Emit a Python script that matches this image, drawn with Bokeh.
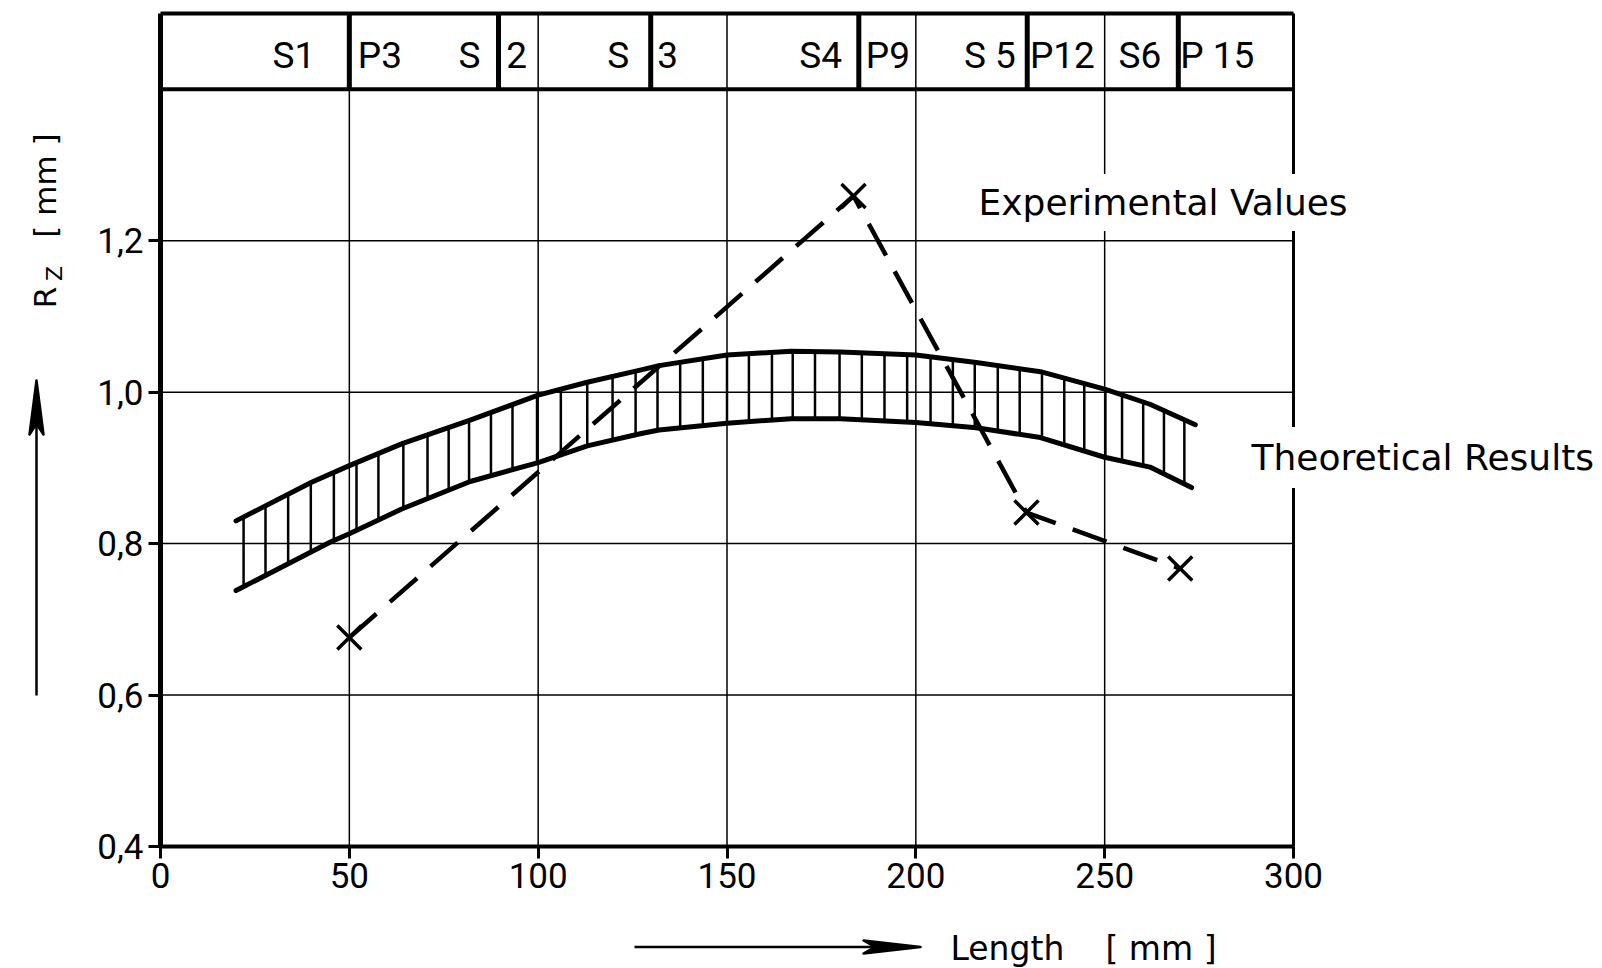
import numpy as np
from bokeh.plotting import figure
from bokeh.models import Range1d, LinearAxis, FixedTicker, Label
from bokeh.embed import file_html
from bokeh.resources import INLINE
from bokeh.core.properties import value

# ---------------- data ----------------
x_ticks = [0, 50, 100, 150, 200, 250, 300]
y_ticks = [0.4, 0.6, 0.8, 1.0, 1.2]
y_tick_labels = ["0,4", "0,6", "0,8", "1,0", "1,2"]
x_grid = [50, 100, 150, 200, 250]
y_grid = [0.6, 0.8, 1.0, 1.2]

# Experimental values (crosses, dashed)
exp_x = [50, 183.5, 229.3, 270]
exp_y = [0.676, 1.259, 0.841, 0.767]

# Theoretical results: band limits
theo_upper_x = [20, 40, 50, 64, 82, 100, 113, 127, 132, 150, 167, 180, 200, 216, 233, 250, 262, 274]
theo_upper_y = [0.830, 0.881, 0.903, 0.932, 0.963, 0.996, 1.013, 1.029, 1.035, 1.049, 1.054,
                1.053, 1.049, 1.039, 1.027, 1.004, 0.984, 0.957]
theo_lower_x = [20, 45, 50, 64, 82, 100, 113, 127, 132, 150, 167, 180, 200, 216, 233, 250, 262, 273]
theo_lower_y = [0.738, 0.802, 0.813, 0.846, 0.882, 0.907, 0.929, 0.945, 0.950, 0.959, 0.965,
                0.965, 0.960, 0.953, 0.940, 0.914, 0.901, 0.874]
# hatch positions inside the band
hatch_x = [22.0, 27.8, 33.8, 39.8, 45.9, 51.9, 57.7, 64.3, 70.7, 76.3, 81.7, 87.5, 93.2, 99.7,
           106.0, 113.0, 119.7, 125.8, 131.6, 137.6, 143.6, 150.0, 155.8, 161.9, 167.4, 173.3,
           179.8, 185.7, 191.7, 197.7, 203.9, 209.8, 215.6, 221.7, 227.5, 233.4, 239.3, 244.6,
           250.2, 254.6, 260.2, 265.7, 271.1]

# Section header strip
section_bounds = [50, 89.5, 129.8, 184.9, 229.5, 269.5]
section_labels = ["S1", "P3", "S", "2", "S", "3", "S4", "P9", "S 5", "P12", "S6", "P 15"]
section_label_x = [35.3, 58.1, 81.8, 94.3, 121.2, 134.3, 174.8, 192.6, 219.6, 238.8, 259.3, 279.8]

# ---------------- layout (pixels) ----------------
W, H = 1602, 968
PL, PR, PT, PB = 160, 1293, 13, 846          # plot box edges
X0, X1 = 0, 300
Y0, Y1 = 0.4, 1.5                            # 1.4..1.5 = header strip
HEADER_Y0 = 1.4
HEADER_LABEL_Y = 1.445
SX = (PR - PL) / (X1 - X0)
SY = (PB - PT) / (Y1 - Y0)


def dx(px):
    return X0 + (px - PL) / SX


def dy(py):
    return Y1 - (py - PT) / SY


p = figure(width=W, height=H,
           x_range=Range1d(dx(0), dx(W)), y_range=Range1d(dy(H), dy(0)),
           output_backend="svg", toolbar_location=None,
           x_axis_location=None, y_axis_location=None, min_border=0)
p.outline_line_color = None
p.background_fill_color = "white"
p.border_fill_color = "white"
p.xgrid.grid_line_color = None
p.ygrid.grid_line_color = None

INK = "black"

# grid lines
p.segment(x0=x_grid, y0=[Y0] * len(x_grid), x1=x_grid, y1=[Y1] * len(x_grid),
          line_color=INK, line_width=1.5)
p.segment(x0=[X0] * len(y_grid), y0=y_grid, x1=[X1] * len(y_grid), y1=y_grid,
          line_color=INK, line_width=1.5)

# frame: right border, header lines, section dividers
p.segment(x0=[X1], y0=[Y0], x1=[X1], y1=[Y1], line_color=INK, line_width=3)
p.segment(x0=[X0, X0], y0=[HEADER_Y0, Y1], x1=[X1, X1], y1=[HEADER_Y0, Y1],
          line_color=INK, line_width=4)
p.segment(x0=section_bounds, y0=[HEADER_Y0] * len(section_bounds),
          x1=section_bounds, y1=[Y1] * len(section_bounds), line_color=INK, line_width=5)
p.text(x=section_label_x, y=[HEADER_LABEL_Y] * len(section_label_x), text=section_labels,
       text_font=value("Roboto"), text_font_size="37px", text_align="center",
       text_baseline="middle", text_color=INK)

# axes
yaxis = LinearAxis(fixed_location=X0, bounds=(Y0, Y1), ticker=FixedTicker(ticks=y_ticks),
                   major_label_overrides=dict(zip(y_ticks, y_tick_labels)))
xaxis = LinearAxis(fixed_location=Y0, bounds=(X0, X1), ticker=FixedTicker(ticks=x_ticks))
for ax, lw in ((yaxis, 5), (xaxis, 4)):
    ax.axis_line_width = lw
    ax.axis_line_color = INK
    ax.major_tick_line_color = INK
    ax.major_tick_line_width = 3
    ax.major_tick_in = 0
    ax.major_tick_out = 12
    ax.minor_tick_in = 0
    ax.minor_tick_out = 0
    ax.major_label_text_font = "Roboto"
    ax.major_label_text_font_size = "35px"
    ax.major_label_text_color = INK
yaxis.major_label_standoff = 5
xaxis.major_label_standoff = 4
p.add_layout(yaxis, "left")
p.add_layout(xaxis, "below")

# theoretical band
p.line(theo_upper_x, theo_upper_y, line_color=INK, line_width=5, line_cap="round", line_join="round")
p.line(theo_lower_x, theo_lower_y, line_color=INK, line_width=5, line_cap="round", line_join="round")
h_lo = np.interp(hatch_x, theo_lower_x, theo_lower_y)
h_up = np.interp(hatch_x, theo_upper_x, theo_upper_y)
p.segment(x0=hatch_x, y0=h_lo, x1=hatch_x, y1=h_up, line_color=INK, line_width=2.5)

# experimental values
p.line(exp_x, exp_y, line_color=INK, line_width=4.5, line_dash="36 18")
p.scatter(exp_x, exp_y, marker="x", size=34, line_color=INK, line_width=3.5)


# arrows (drawn in pixel layout, converted to data)
def arrow(x_tail, y_tail, x_tip, y_tip, head, half):
    v = np.array([x_tip - x_tail, y_tip - y_tail], dtype=float)
    v /= np.hypot(*v)
    n = np.array([-v[1], v[0]])
    tip = np.array([x_tip, y_tip], dtype=float)
    base = tip - v * head
    notch = tip - v * head * 0.8
    pts = [tip, base + n * half, notch, base - n * half]
    p.line([dx(x_tail), dx(notch[0])], [dy(y_tail), dy(notch[1])], line_color=INK, line_width=2.5)
    p.patch([dx(q[0]) for q in pts], [dy(q[1]) for q in pts], fill_color=INK,
            line_color=INK, line_width=2.5, line_join="round")


arrow(36, 695, 36, 380, 54, 7)
arrow(634, 946.5, 920, 946.5, 57, 6.5)

# texts
TXT_FONT = "DejaVu Sans"
PAD_E, PAD_T = 8, 10
p.add_layout(Label(x=dx(950), y=dy(948), text="Length", text_font=TXT_FONT,
                   text_font_size="33px", text_baseline="middle", text_color=INK))
p.add_layout(Label(x=dx(1105), y=dy(948), text="[ mm ]", text_font=TXT_FONT,
                   text_font_size="33px", text_baseline="middle", text_color=INK))
p.add_layout(Label(x=dx(978 - PAD_E), y=dy(202), text="Experimental Values", text_font=TXT_FONT,
                   text_font_size="36px", text_baseline="middle", text_color=INK,
                   background_fill_color="white", padding=PAD_E))
p.add_layout(Label(x=dx(1251 - PAD_T), y=dy(457), text="Theoretical Results", text_font=TXT_FONT,
                   text_font_size="36px", text_baseline="middle", text_color=INK,
                   background_fill_color="white", padding=PAD_T))
p.add_layout(Label(x=dx(44), y=dy(297), text="R", angle=np.pi / 2, text_font=TXT_FONT,
                   text_font_size="31px", text_align="center", text_baseline="middle",
                   text_color=INK))
p.add_layout(Label(x=dx(54), y=dy(273), text="Z", angle=np.pi / 2, text_font=TXT_FONT,
                   text_font_size="22px", text_align="center", text_baseline="middle",
                   text_color=INK))
p.add_layout(Label(x=dx(44), y=dy(185), text="[ mm ]", angle=np.pi / 2, text_font=TXT_FONT,
                   text_font_size="31px", text_align="center", text_baseline="middle",
                   text_color=INK))

open("out.html", "w").write(file_html(p, INLINE))
